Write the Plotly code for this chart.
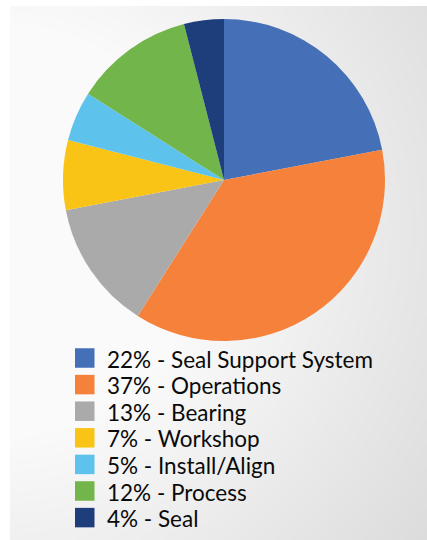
import numpy as np
import plotly.graph_objects as go

# ---- data ----
categories = ["Seal Support System", "Operations", "Bearing", "Workshop",
              "Install/Align", "Process", "Seal"]
percent = [22, 37, 13, 7, 5, 12, 4]
colors = ["#4570B8", "#F5813A", "#AAAAAA", "#F9C416", "#5EC3EC", "#72B54A", "#1E3E7B"]

W, H = 427, 540

fig = go.Figure()

# ---- gradient background panel (decoration) ----
px0, py0 = 10, 6
nx, ny = 60, 60
xe = np.linspace(px0, W, nx + 1)
ye = np.linspace(py0, H, ny + 1)
xc = (xe[:-1] + xe[1:]) / 2
yc = (ye[:-1] + ye[1:]) / 2
XX, YY = np.meshgrid(xc, yc)
d = np.sqrt((XX - 0) ** 2 + (YY - 230) ** 2)
gray = np.clip(255 - 0.094 * (d - 150), 215, 250)
fig.add_trace(go.Heatmap(
    x=xe, y=ye, z=gray, zmin=0, zmax=255, zsmooth="best",
    colorscale=[[0, "rgb(0,0,0)"], [1, "rgb(255,255,255)"]],
    showscale=False, hoverinfo="skip", xaxis="x", yaxis="y"))

# ---- pie ----
cx, cy, r = 224, 180, 161
fig.add_trace(go.Pie(
    labels=categories, values=percent, sort=False, direction="clockwise",
    rotation=0, marker=dict(colors=colors, line=dict(width=0)),
    textinfo="none", hoverinfo="skip", showlegend=False,
    domain=dict(x=[(cx - r) / W, (cx + r) / W],
                y=[(H - cy - r) / H, (H - cy + r) / H])))

# ---- custom legend ----
lx, ly0, dy, sq = 75, 358, 26.6, 19.5
shapes = []
annotations = []
for i, (cat, p, c) in enumerate(zip(categories, percent, colors)):
    yc_ = ly0 + i * dy
    shapes.append(dict(type="rect", xref="x", yref="y", x0=lx, x1=lx + sq,
                       y0=yc_ - sq / 2, y1=yc_ + sq / 2, fillcolor=c,
                       line=dict(width=0), layer="above"))
    annotations.append(dict(x=lx + 30, y=yc_ + 1, xref="x", yref="y",
                            text=f"{p}% - {cat}", showarrow=False,
                            xanchor="left", yanchor="middle",
                            font=dict(family="Lato", size=22.5, color="#0a0a0a")))

fig.update_layout(
    width=W, height=H, autosize=False,
    margin=dict(l=0, r=0, t=0, b=0, pad=0),
    paper_bgcolor="white", plot_bgcolor="white",
    xaxis=dict(range=[0, W], visible=False, fixedrange=True, domain=[0, 1]),
    yaxis=dict(range=[H, 0], visible=False, fixedrange=True, domain=[0, 1]),
    shapes=shapes, annotations=annotations, showlegend=False,
)

fig.write_html("out.html", config={"displayModeBar": False})
